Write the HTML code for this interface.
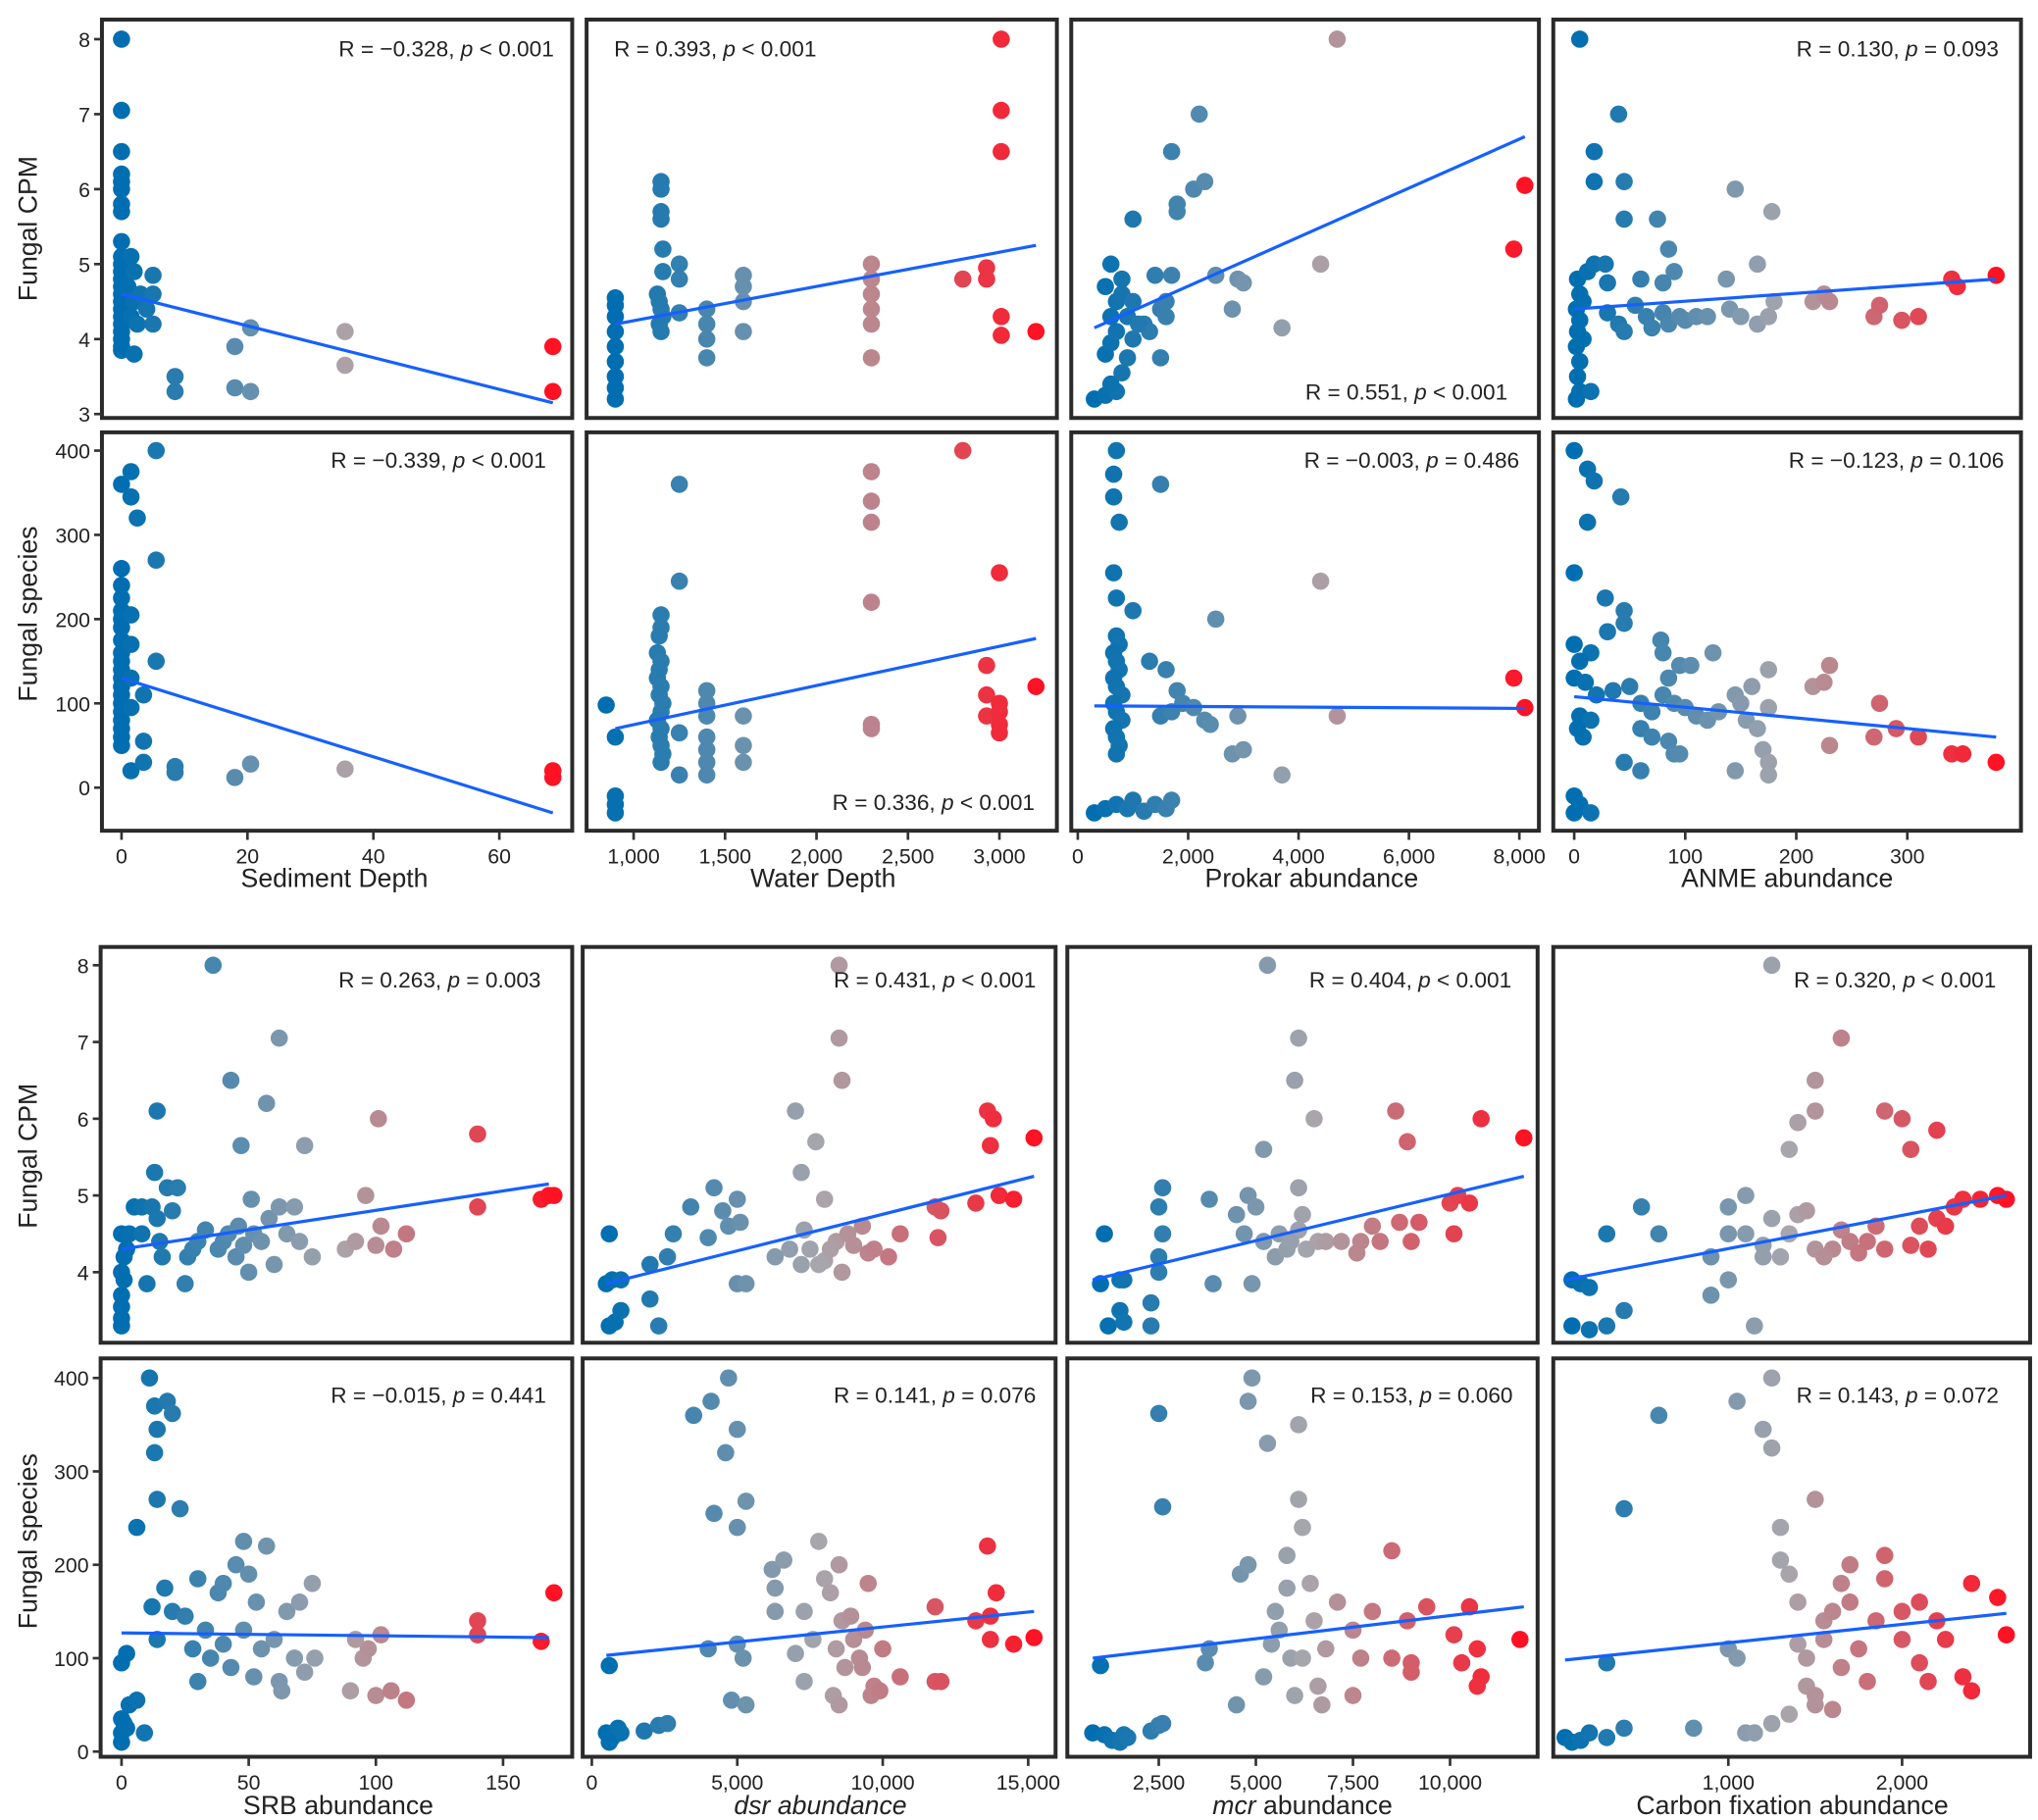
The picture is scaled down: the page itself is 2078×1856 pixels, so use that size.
<!DOCTYPE html>
<html><head><meta charset="utf-8"><style>
html,body{margin:0;padding:0;background:#fff;}
svg{display:block;font-family:"Liberation Sans",Arial,sans-serif;}
</style></head><body>
<svg id="chart" width="2078" height="1856" viewBox="0 0 1560 1393.4" xmlns="http://www.w3.org/2000/svg"></svg>
<script>
// ---- data (x, y) per panel ----
const depthCpm=[[0,8],[0,7.05],[0,6.5],[0,6.2],[0,6.1],[0,6.0],[0,5.8],[0,5.7],[0,5.3],[0,5.1],[0,5.0],[0,4.9],[0,4.8],[0,4.7],[0,4.6],[0,4.5],[0,4.4],[0,4.3],[0,4.2],[0,4.1],[0,4.0],[0,3.9],[0,3.85],[1.5,5.1],[2,4.9],[1,4.7],[2,4.5],[1.5,4.3],[2.5,4.2],[2,3.8],[3,4.6],[5,4.85],[5,4.6],[4,4.4],[5,4.2],[8.5,3.5],[8.5,3.3],[18,3.9],[18,3.35],[20.5,4.15],[20.5,3.3],[35.5,4.1],[35.5,3.65],[68.5,3.9],[68.5,3.3]];
const depthSp=[[0,360],[0,260],[0,240],[0,225],[0,210],[0,200],[0,190],[0,175],[0,160],[0,150],[0,140],[0,130],[0,120],[0,110],[0,100],[0,90],[0,80],[0,70],[0,60],[0,50],[1.5,375],[1.5,345],[1.5,205],[1.5,170],[1.5,130],[1.5,95],[1.5,20],[2.5,320],[5.5,400],[5.5,270],[5.5,150],[3.5,110],[3.5,55],[3.5,30],[8.5,25],[8.5,18],[18,12],[20.5,28],[35.5,22],[68.5,20],[68.5,12]];
const wdCpm=[[900,4.55],[900,4.45],[900,4.3],[900,4.1],[900,3.9],[900,3.7],[900,3.5],[900,3.35],[900,3.2],[1150,6.1],[1150,6.0],[1150,5.7],[1150,5.6],[1160,5.2],[1160,4.9],[1130,4.6],[1140,4.5],[1150,4.4],[1160,4.3],[1140,4.2],[1150,4.1],[1250,5.0],[1250,4.8],[1250,4.35],[1400,4.4],[1400,4.2],[1400,4.0],[1400,3.75],[1600,4.85],[1600,4.7],[1600,4.5],[1600,4.1],[2300,5.0],[2300,4.8],[2300,4.6],[2300,4.4],[2300,4.2],[2300,3.75],[2800,4.8],[2930,4.95],[2930,4.8],[3010,8],[3010,7.05],[3010,6.5],[3010,4.3],[3010,4.05],[3200,4.1]];
const wdSp=[[850,98],[900,60],[900,-10],[900,-20],[900,-30],[1150,205],[1150,190],[1140,180],[1130,160],[1150,150],[1140,140],[1130,130],[1150,120],[1140,110],[1160,100],[1150,90],[1130,80],[1150,70],[1140,60],[1150,50],[1160,40],[1150,30],[1250,360],[1250,245],[1250,65],[1250,15],[1400,115],[1400,100],[1400,85],[1400,60],[1400,45],[1400,30],[1400,15],[1600,85],[1600,50],[1600,30],[2300,375],[2300,340],[2300,315],[2300,220],[2300,75],[2300,70],[2800,400],[2930,145],[2930,110],[2930,85],[3000,255],[3000,100],[3000,90],[3000,75],[3000,65],[3200,120]];
const prCpm=[[300,3.2],[500,3.25],[700,3.3],[600,3.4],[800,3.55],[500,3.8],[900,3.75],[600,3.95],[700,4.1],[1000,4.0],[600,4.3],[900,4.3],[700,4.5],[800,4.6],[500,4.7],[800,4.8],[600,5.0],[1000,4.5],[1200,4.2],[1500,3.75],[1300,4.1],[1400,4.85],[1700,4.85],[1500,4.4],[1600,4.5],[1000,5.6],[1800,5.7],[1800,5.8],[2100,6.0],[2300,6.1],[1700,6.5],[2200,7.0],[2500,4.85],[2900,4.8],[3000,4.75],[2800,4.4],[3700,4.15],[4400,5.0],[4700,8.0],[7900,5.2],[8100,6.05],[1600,4.3],[1100,4.2]];
const prSp=[[700,400],[650,372],[650,345],[750,315],[650,255],[700,225],[700,180],[750,170],[650,160],[700,150],[750,140],[650,130],[700,120],[800,110],[650,100],[700,90],[800,80],[650,70],[700,60],[750,50],[700,40],[1500,360],[1000,210],[2500,200],[1300,150],[1600,140],[1800,115],[1900,100],[2100,95],[1500,85],[1700,90],[2300,80],[2400,75],[2900,85],[2800,40],[3000,45],[3700,15],[4400,245],[4700,85],[7900,130],[8100,95],[300,-30],[500,-25],[700,-20],[900,-25],[1000,-15],[1200,-28],[1400,-20],[1600,-25],[1700,-15]];
const anCpm=[[2,3.2],[5,3.3],[15,3.3],[3,3.5],[5,3.7],[2,3.9],[8,4.0],[3,4.1],[5,4.25],[2,4.4],[8,4.5],[5,4.6],[3,4.8],[12,4.9],[18,5.0],[28,5.0],[5,8.0],[40,7.0],[18,6.5],[18,6.1],[45,6.1],[45,5.6],[75,5.6],[85,5.2],[30,4.75],[60,4.8],[90,4.9],[80,4.75],[30,4.35],[40,4.2],[45,4.1],[55,4.45],[65,4.3],[70,4.15],[80,4.35],[85,4.2],[95,4.3],[100,4.25],[110,4.3],[120,4.3],[140,4.4],[150,4.3],[137,4.8],[165,5.0],[145,6.0],[178,5.7],[165,4.2],[175,4.3],[180,4.5],[215,4.5],[225,4.6],[230,4.5],[270,4.3],[275,4.45],[295,4.25],[310,4.3],[340,4.8],[345,4.7],[380,4.85]];
const anSp=[[0,400],[12,378],[18,364],[42,345],[12,315],[0,255],[28,225],[45,210],[45,195],[30,185],[0,170],[15,160],[5,150],[0,130],[10,125],[20,110],[35,115],[50,120],[60,100],[70,90],[78,175],[80,160],[85,130],[95,145],[105,145],[125,160],[80,110],[90,100],[100,95],[110,85],[120,80],[130,90],[60,70],[70,60],[85,55],[90,40],[95,40],[45,30],[60,20],[145,110],[150,100],[155,80],[145,20],[160,120],[175,140],[175,95],[165,70],[170,45],[175,30],[175,15],[215,120],[230,145],[225,125],[230,50],[275,100],[270,60],[290,70],[310,60],[340,40],[350,40],[380,30],[0,-10],[5,-20],[15,-30],[0,-30],[5,85],[15,80],[8,60],[3,70]];
const srbCpm=[[0,3.3],[0,3.4],[0,3.55],[0,3.7],[1,3.9],[0,4.0],[1,4.2],[2,4.3],[0,4.5],[3,4.5],[8,4.5],[5,4.85],[8,4.85],[10,3.85],[12,4.85],[13,5.3],[14,4.7],[14,6.1],[15,4.4],[16,4.2],[18,5.1],[22,5.1],[20,4.8],[25,3.85],[26,4.2],[28,4.3],[30,4.4],[33,4.55],[36,8.0],[38,4.3],[40,4.4],[42,4.5],[43,6.5],[45,4.2],[46,4.6],[47,5.65],[48,4.35],[50,4.0],[51,4.95],[52,4.5],[55,4.4],[57,6.2],[58,4.7],[60,4.1],[62,4.85],[62,7.05],[65,4.5],[68,4.85],[70,4.4],[72,5.65],[75,4.2],[88,4.3],[92,4.4],[96,5.0],[100,4.35],[101,6.0],[102,4.6],[107,4.3],[112,4.5],[140,4.85],[140,5.8],[165,4.95],[168,5.0],[170,5.0]];
const srbSp=[[0,10],[0,20],[1,30],[2,25],[0,35],[3,50],[6,55],[9,20],[0,95],[2,105],[6,240],[11,400],[13,370],[14,345],[13,320],[14,270],[23,260],[18,375],[20,362],[12,155],[14,120],[17,175],[20,150],[25,145],[28,110],[30,185],[30,75],[33,130],[35,100],[38,170],[40,180],[40,115],[43,90],[45,200],[48,225],[48,130],[50,190],[52,80],[53,160],[55,110],[57,220],[60,120],[62,75],[63,65],[65,150],[68,100],[70,160],[72,85],[75,180],[76,100],[90,65],[95,100],[97,110],[92,120],[100,60],[102,125],[106,65],[112,55],[140,140],[140,125],[165,118],[170,170]];
const dsrCpm=[[500,3.85],[600,4.5],[700,3.9],[1000,3.9],[600,3.3],[800,3.35],[1000,3.5],[2000,4.1],[2000,3.65],[2300,3.3],[2600,4.2],[2800,4.5],[3400,4.85],[4000,4.45],[4200,5.1],[4500,4.8],[4700,4.6],[5000,4.95],[5100,4.65],[5000,3.85],[5300,3.85],[6300,4.2],[7000,6.1],[7200,5.3],[7300,4.55],[7500,4.3],[7700,5.7],[8000,4.95],[8000,4.15],[8400,4.4],[8500,8.0],[8500,7.05],[8600,6.5],[8600,4.0],[8800,4.5],[9000,4.35],[9500,4.25],[9300,4.6],[10200,4.2],[10600,4.5],[11800,4.85],[11900,4.45],[12000,4.8],[13200,4.9],[13600,6.1],[13800,6.0],[13700,5.65],[14000,5.0],[14500,4.95],[15200,5.75],[6800,4.3],[7200,4.1],[8200,4.3],[9700,4.3],[7800,4.1]];
const dsrSp=[[500,20],[700,15],[900,25],[1000,20],[600,10],[600,92],[1800,22],[2300,28],[2600,30],[3500,360],[4100,375],[4700,400],[5000,345],[4600,320],[4200,255],[5300,268],[5000,240],[4000,110],[5000,115],[5200,100],[4800,55],[5300,50],[6200,195],[6300,175],[6300,150],[6600,205],[7000,105],[7300,150],[7300,75],[7800,225],[8000,185],[8200,170],[8500,200],[8400,110],[8600,140],[8700,90],[8300,60],[8500,50],[9000,120],[9200,100],[9500,180],[9400,130],[9700,70],[10000,110],[10600,80],[11800,155],[11800,75],[12000,75],[13200,140],[13600,220],[13700,145],[13900,170],[13700,120],[14500,115],[15200,122],[7600,120],[8900,145],[9300,90],[9600,60],[9900,65]];
const mcrCpm=[[1000,3.85],[1100,4.5],[1500,3.9],[1600,3.9],[1200,3.3],[1500,3.5],[1600,3.35],[2300,3.3],[2300,3.6],[2500,4.0],[2500,4.2],[2600,4.5],[2500,4.85],[2600,5.1],[3800,4.95],[3900,3.85],[4500,4.75],[4800,5.0],[4700,4.5],[4900,3.85],[5000,4.85],[5200,5.6],[5300,8.0],[5200,4.4],[5500,4.2],[5600,4.5],[5800,4.3],[6000,6.5],[6100,7.05],[6100,5.1],[6100,4.55],[6200,4.75],[6300,4.3],[6500,6.0],[6600,4.4],[6800,4.4],[7600,4.25],[7700,4.4],[8000,4.6],[8200,4.4],[8600,6.1],[8700,4.65],[8900,5.7],[9000,4.4],[9200,4.65],[10000,4.9],[10100,4.5],[10200,5.0],[10500,4.9],[10800,6.0],[11900,5.75],[7200,4.4],[5900,4.4]];
const mcrSp=[[800,20],[1100,18],[1300,12],[1500,10],[1600,18],[1700,15],[2300,22],[2500,28],[2600,30],[1000,92],[2500,362],[2600,262],[3800,110],[3700,95],[4500,50],[4600,190],[4800,200],[4800,375],[4900,400],[5200,80],[5300,330],[5500,150],[5600,130],[5800,210],[5800,175],[5900,100],[6000,60],[6100,350],[6100,270],[6200,240],[6400,180],[6500,140],[6600,70],[6700,50],[7100,160],[7500,130],[7500,60],[7700,100],[8000,150],[8500,100],[8500,215],[8900,140],[9000,95],[9000,85],[9400,155],[10100,125],[10300,95],[10500,155],[10700,110],[10800,80],[10700,70],[11800,120],[6800,110],[5400,115],[6200,100]];
const cfCpm=[[100,3.9],[150,3.85],[200,3.8],[100,3.3],[200,3.25],[300,3.3],[400,3.5],[300,4.5],[500,4.85],[600,4.5],[900,4.2],[900,3.7],[1000,3.9],[1000,4.5],[1000,4.85],[1100,5.0],[1100,4.5],[1150,3.3],[1200,4.35],[1250,4.7],[1250,8.0],[1300,4.2],[1350,5.6],[1350,4.5],[1400,4.75],[1400,5.95],[1450,4.8],[1500,6.5],[1500,6.1],[1500,4.3],[1600,4.3],[1650,7.05],[1650,4.55],[1700,4.4],[1750,4.25],[1800,4.4],[1850,4.6],[1900,6.1],[1900,4.3],[2000,6.0],[2050,5.6],[2050,4.35],[2100,4.6],[2200,5.85],[2200,4.7],[2300,4.85],[2350,4.95],[2450,4.95],[2550,5.0],[2600,4.95],[2150,4.3],[2250,4.6],[1200,4.2],[1550,4.2]];
const cfSp=[[60,15],[100,10],[150,12],[200,20],[300,15],[400,25],[800,25],[300,95],[400,260],[600,360],[1000,110],[1050,100],[1100,20],[1150,20],[1250,30],[1050,375],[1250,400],[1200,345],[1250,325],[1300,240],[1300,205],[1350,190],[1400,160],[1400,115],[1450,100],[1450,70],[1500,60],[1500,50],[1500,270],[1550,140],[1550,120],[1600,150],[1650,180],[1650,90],[1700,200],[1700,160],[1750,110],[1800,75],[1850,140],[1900,185],[1900,210],[2000,150],[2000,120],[2100,160],[2100,95],[2150,75],[2200,140],[2250,120],[2350,80],[2400,65],[2400,180],[2550,165],[2600,125],[1600,45],[1350,40]];
// fitted lines [x0,y0,x1,y1] in data units
const fits=[[0,4.6,68.5,3.15],[900,4.2,3200,5.25],[300,4.15,8100,6.7],[0,4.4,380,4.8],
[0,130,68.5,-30],[900,70,3200,177],[300,97,8100,94],[0,108,380,60],
[0,4.3,168,5.15],[500,3.85,15200,5.25],[800,3.9,11900,5.25],[60,3.9,2600,5.0],
[0,127,168,122],[500,103,15200,150],[800,100,11900,155],[60,98,2600,148]];
const stats=["R = \u22120.328, ","p"," < 0.001","R = 0.393, ","p"," < 0.001","R = 0.551, ","p"," < 0.001","R = 0.130, ","p"," = 0.093",
"R = \u22120.339, ","p"," < 0.001","R = 0.336, ","p"," < 0.001","R = \u22120.003, ","p"," = 0.486","R = \u22120.123, ","p"," = 0.106",
"R = 0.263, ","p"," = 0.003","R = 0.431, ","p"," < 0.001","R = 0.404, ","p"," < 0.001","R = 0.320, ","p"," < 0.001",
"R = \u22120.015, ","p"," = 0.441","R = 0.141, ","p"," = 0.076","R = 0.153, ","p"," = 0.060","R = 0.143, ","p"," = 0.072"];
const xTicksTop=[[0,20,40,60],[1000,1500,2000,2500,3000],[0,2000,4000,6000,8000],[0,100,200,300]];
const xTicksBot=[[0,50,100,150],[0,5000,10000,15000],[2500,5000,7500,10000],[1000,2000]];
const yTicksCpmTop=[3,4,5,6,7,8];
const yTicksCpmBot=[4,5,6,7,8];
const yTicksSp=[0,100,200,300,400];

const NS="http://www.w3.org/2000/svg";
const svg=document.getElementById('chart');
function mk(tag,at,parent){const e=document.createElementNS(NS,tag);for(const k in at)e.setAttribute(k,at[k]);(parent||svg).appendChild(e);return e;}
// layout
const colsTop=[[78,438],[449,809],[820,1178],[1189,1547]];
const colsBot=[[77,438],[446,808],[817,1177],[1189,1554]];
const rows=[[15,320],[331,636],[725,1028],[1040,1345]];
const xmapTop=[v=>93+v*4.82,v=>485+(v-1000)*0.14,v=>825+v*0.04225,v=>1205+v*0.85];
const xmapBot=[v=>93+v*1.947,v=>453+v*0.02227,v=>887+(v-2500)*0.02973,v=>1323+(v-1000)*0.133];
const ymaps=[v=>317-(v-3)*57.4,v=>603-v*0.645,v=>974-(v-4)*58.75,v=>1341-v*0.715];
const panelData=[depthCpm,wdCpm,prCpm,anCpm,depthSp,wdSp,prSp,anSp,srbCpm,dsrCpm,mcrCpm,cfCpm,srbSp,dsrSp,mcrSp,cfSp];
const labelPos=[[424,37,'end'],[470,37,'start'],[1154,300,'end'],[1530,37,'end'],
[418,352,'end'],[792,614,'end'],[1163,352,'end'],[1534,352,'end'],
[414,750,'end'],[793,750,'end'],[1157,750,'end'],[1528,750,'end'],
[418,1068,'end'],[793,1068,'end'],[1158,1068,'end'],[1530,1068,'end']];
function lerp(a,b,t){return Math.round(a+(b-a)*t);}
function col(t){const A=[0,110,176],B=[168,166,172],C=[255,18,36];
 if(t<0.5){const u=t/0.5;return `rgb(${lerp(A[0],B[0],u)},${lerp(A[1],B[1],u)},${lerp(A[2],B[2],u)})`;}
 const u=(t-0.5)/0.5;return `rgb(${lerp(B[0],C[0],u)},${lerp(B[1],C[1],u)},${lerp(B[2],C[2],u)})`;}

for(let i=0;i<16;i++){
 const r=Math.floor(i/4),c=i%4;
 const cols=r<2?colsTop:colsBot;const xm=(r<2?xmapTop:xmapBot)[c];const ym=ymaps[r];
 const [x0,x1]=cols[c],[y0,y1]=rows[r];
 const g=mk('g',{});
 
 
 const frame=mk('rect',{x:x0,y:y0,width:x1-x0,height:y1-y0,fill:'#fff',stroke:'#2a2a2a','stroke-width':3},g);
 
 
 const d=panelData[i];
 const xs=d.map(p=>p[0]);const mn=Math.min(...xs),mx=Math.max(...xs);
 for(const p of d){
  const ci=mk('circle',{cx:xm(p[0]),cy:ym(p[1]),r:6.6,fill:col((p[0]-mn)/(mx-mn))},g);
  
  
 }
 const f=fits[i];
 const ln=mk('line',{x1:xm(f[0]),y1:ym(f[1]),x2:xm(f[2]),y2:ym(f[3]),stroke:'#1560ff','stroke-width':2.4},g);
 
 
 const lp=labelPos[i];
 const t=mk('text',{x:lp[0],y:lp[1]+6,'text-anchor':lp[2],'font-size':17,fill:'#222'},g);
 
 
 const s1=mk('tspan',{},t);s1.textContent=stats[i*3];
 const s2=mk('tspan',{'font-style':'italic'},t);s2.textContent=stats[i*3+1];
 const s3=mk('tspan',{},t);s3.textContent=stats[i*3+2];
 // y ticks on first column
 if(c===0){
  const yt=r===0?yTicksCpmTop:(r===2?yTicksCpmBot:yTicksSp);
  for(const v of yt){
   const yy=ym(v);
   mk('line',{x1:x0-6,x2:x0,y1:yy,y2:yy,stroke:'#333','stroke-width':2},g);
   const tl=mk('text',{x:x0-9,y:yy+6,'text-anchor':'end','font-size':16,fill:'#222'},g);
   
   
   tl.textContent=v;
  }
 }
 // x ticks on bottom rows
 if(r===1||r===3){
  const xt=(r===1?xTicksTop:xTicksBot)[c];
  for(const v of xt){
   const xx=xm(v);
   mk('line',{x1:xx,x2:xx,y1:y1+1,y2:y1+7,stroke:'#333','stroke-width':2},g);
   const tl=mk('text',{x:xx,y:y1+25,'text-anchor':'middle','font-size':16,fill:'#222'},g);
   
   
   tl.textContent=v.toLocaleString('en-US');
  }
 }
}
// axis titles
const xTitles=[["Sediment Depth",256,672],["Water Depth",630,672],["Prokar abundance",1004,672],["ANME abundance",1368,672]];
for(const [txt,x,y] of xTitles){const t=mk('text',{x:x,y:y+7,'text-anchor':'middle','font-size':20,fill:'#222'});
 
 
 t.textContent=txt;}
const bt=[[null,"SRB abundance",259],["dsr"," abundance",628],["mcr"," abundance",997],[null,"Carbon fixation abundance",1372]];
for(const [it,rest,x] of bt){const t=mk('text',{x:x,y:1389,'text-anchor':'middle','font-size':20,fill:'#222'});
 
 
 if(it){const a=mk('tspan',{'font-style':'italic'},t);a.textContent=it;}
 const b=mk('tspan',{},t);b.textContent=rest;
 if(it==="dsr") t.setAttribute('font-style','italic');}
const yTitles=[["Fungal CPM",175],["Fungal species",470],["Fungal CPM",885],["Fungal species",1180]];
for(const [txt,y] of yTitles){const t=mk('text',{x:0,y:0,'text-anchor':'middle','font-size':20,fill:'#222',transform:`translate(28,${y}) rotate(-90)`});
 
 
 t.textContent=txt;}
</script>
</body></html>
